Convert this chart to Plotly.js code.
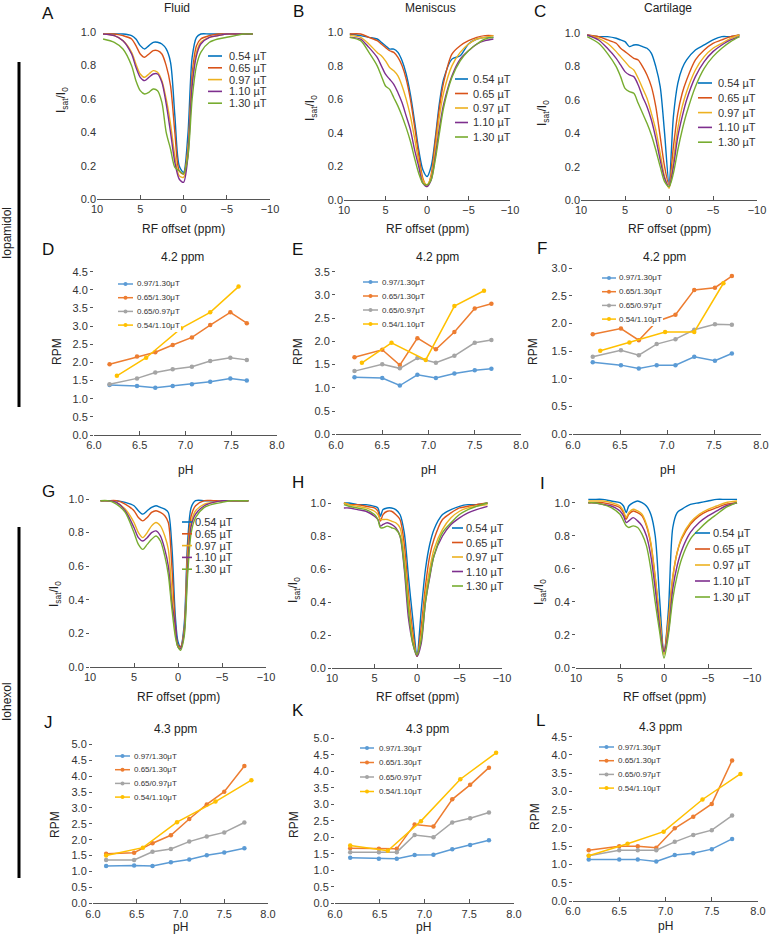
<!DOCTYPE html>
<html><head><meta charset="utf-8">
<script src="https://cdn.plot.ly/plotly-3.0.1.min.js"></script>
<style>html,body{margin:0;padding:0;background:#fff}#chart{width:772px;height:937px}</style>
</head><body><div id="chart"></div>
<script>
// ---------- labels / colours ----------
const zLabels = ["0.54 µT","0.65 µT","0.97 µT","1.10 µT","1.30 µT"];
const rLabels = ["0.97/1.30μT","0.65/1.30μT","0.65/0.97μT","0.54/1.10μT"];
const zColors = ["#0072BD","#D95319","#EDB120","#7E2F8E","#77AC30"];
const rColors = ["#5B9BD5","#ED7D31","#A5A5A5","#FFC000"];

// ---------- Z-spectra (Isat/I0 vs RF offset, ppm) ----------
const OFF_ABC = [9.3,8,7,6,5.5,5,4.5,4,3.5,3,2.5,2,1.5,1,0.5,0,-0.5,-1,-1.5,-2,-3,-4,-5,-6,-7,-8];
const A_054 = [0.99,0.99,0.99,0.98,0.96,0.92,0.90,0.92,0.94,0.94,0.93,0.90,0.82,0.50,0.20,0.16,0.38,0.85,0.97,0.99,0.99,0.99,0.99,0.99,0.99,0.99];
const A_065 = [0.99,0.99,0.98,0.96,0.92,0.87,0.85,0.87,0.89,0.89,0.87,0.80,0.68,0.40,0.17,0.15,0.30,0.75,0.92,0.96,0.98,0.99,0.99,0.99,0.99,0.99];
const A_097 = [0.99,0.98,0.95,0.88,0.81,0.75,0.73,0.75,0.77,0.76,0.71,0.60,0.45,0.26,0.14,0.13,0.28,0.70,0.88,0.94,0.97,0.98,0.99,0.99,0.99,0.99];
const A_110 = [0.99,0.98,0.95,0.87,0.79,0.73,0.71,0.73,0.75,0.75,0.70,0.57,0.40,0.22,0.12,0.10,0.25,0.68,0.86,0.93,0.97,0.98,0.99,0.99,0.99,0.99];
const A_130 = [0.96,0.94,0.90,0.80,0.71,0.65,0.63,0.64,0.66,0.65,0.58,0.40,0.30,0.19,0.17,0.15,0.25,0.60,0.80,0.88,0.94,0.96,0.97,0.98,0.99,0.99];

const B_054 = [0.99,0.98,0.97,0.96,0.94,0.92,0.90,0.90,0.88,0.83,0.75,0.63,0.47,0.30,0.18,0.14,0.20,0.37,0.58,0.72,0.84,0.86,0.93,0.96,0.97,0.97];
const B_065 = [0.99,0.99,0.97,0.95,0.93,0.91,0.89,0.88,0.85,0.80,0.72,0.60,0.44,0.27,0.13,0.08,0.15,0.35,0.55,0.70,0.87,0.92,0.95,0.97,0.98,0.98];
const B_097 = [0.98,0.97,0.93,0.88,0.86,0.83,0.79,0.77,0.74,0.68,0.60,0.50,0.37,0.23,0.12,0.09,0.14,0.30,0.50,0.64,0.80,0.88,0.93,0.96,0.97,0.98];
const B_110 = [0.97,0.96,0.91,0.85,0.80,0.75,0.72,0.69,0.64,0.58,0.50,0.42,0.30,0.20,0.10,0.08,0.12,0.26,0.43,0.57,0.74,0.84,0.89,0.93,0.95,0.96];
const B_130 = [0.97,0.95,0.88,0.80,0.74,0.68,0.66,0.61,0.56,0.50,0.43,0.35,0.25,0.16,0.10,0.09,0.12,0.24,0.40,0.55,0.73,0.83,0.89,0.93,0.96,0.97];

const C_054 = [0.99,0.98,0.98,0.97,0.96,0.95,0.92,0.93,0.93,0.92,0.91,0.88,0.80,0.68,0.40,0.10,0.50,0.70,0.79,0.84,0.90,0.93,0.96,0.98,0.98,0.99];
const C_065 = [0.99,0.98,0.96,0.94,0.91,0.89,0.87,0.85,0.84,0.80,0.75,0.68,0.56,0.38,0.20,0.09,0.32,0.52,0.64,0.72,0.84,0.90,0.94,0.96,0.98,0.99];
const C_097 = [0.99,0.97,0.94,0.89,0.86,0.83,0.80,0.78,0.73,0.67,0.61,0.52,0.42,0.28,0.14,0.07,0.24,0.43,0.56,0.65,0.78,0.86,0.91,0.94,0.97,0.99];
const C_110 = [0.99,0.96,0.91,0.85,0.81,0.77,0.75,0.74,0.69,0.62,0.56,0.48,0.37,0.24,0.13,0.08,0.20,0.38,0.50,0.60,0.74,0.83,0.89,0.93,0.96,0.98];
const C_130 = [0.98,0.94,0.88,0.80,0.74,0.67,0.65,0.64,0.58,0.52,0.46,0.39,0.30,0.20,0.11,0.08,0.16,0.30,0.42,0.52,0.68,0.79,0.86,0.91,0.95,0.98];

const OFF_G = [8.8,8,7,6,5,4.5,4.0,3.5,3.0,2.5,2.0,1.5,1.1,0.7,0.3,0,-0.3,-0.7,-1.1,-1.5,-2,-3,-4,-5,-6,-7,-8];
const G_054 = [0.99,0.99,0.99,0.98,0.96,0.93,0.91,0.93,0.95,0.96,0.95,0.94,0.92,0.72,0.30,0.15,0.12,0.25,0.75,0.95,0.99,0.99,0.99,0.99,0.99,0.99,0.99];
const G_065 = [0.99,0.99,0.99,0.97,0.93,0.89,0.87,0.89,0.92,0.93,0.92,0.90,0.86,0.60,0.25,0.13,0.12,0.22,0.70,0.90,0.96,0.99,0.99,0.99,0.99,0.99,0.99];
const G_097 = [0.99,0.99,0.98,0.94,0.86,0.80,0.77,0.80,0.84,0.86,0.84,0.78,0.70,0.45,0.20,0.12,0.11,0.21,0.65,0.86,0.93,0.97,0.98,0.99,0.99,0.99,0.99];
const G_110 = [0.99,0.99,0.98,0.93,0.83,0.77,0.75,0.77,0.80,0.81,0.78,0.70,0.60,0.38,0.25,0.12,0.11,0.20,0.60,0.84,0.91,0.96,0.98,0.99,0.99,0.99,0.99];
const G_130 = [0.99,0.99,0.97,0.92,0.80,0.73,0.70,0.73,0.76,0.78,0.75,0.66,0.55,0.35,0.18,0.12,0.10,0.18,0.55,0.80,0.89,0.95,0.97,0.98,0.99,0.99,0.99];

const OFF_HI = [8.6,8,7,6,5,4.6,4.3,4.0,3.5,3.0,2.5,2.0,1.5,1.0,0.5,0,-0.5,-1,-1.5,-2,-3,-4,-5,-6,-7,-8.3];
const H_054 = [1.00,1.00,0.99,0.99,0.98,0.97,0.92,0.96,0.97,0.97,0.96,0.93,0.82,0.55,0.30,0.08,0.35,0.60,0.75,0.84,0.93,0.96,0.98,0.99,0.99,1.00];
const H_065 = [1.00,0.99,0.99,0.98,0.97,0.95,0.89,0.93,0.95,0.95,0.93,0.90,0.75,0.45,0.22,0.07,0.25,0.50,0.68,0.78,0.90,0.94,0.97,0.98,0.99,1.00];
const H_097 = [1.00,0.99,0.98,0.97,0.95,0.93,0.90,0.90,0.90,0.89,0.88,0.85,0.68,0.40,0.18,0.07,0.20,0.45,0.60,0.72,0.84,0.91,0.95,0.97,0.98,0.99];
const H_110 = [0.97,0.97,0.96,0.95,0.92,0.90,0.86,0.87,0.88,0.87,0.85,0.80,0.60,0.30,0.15,0.07,0.15,0.40,0.55,0.68,0.80,0.87,0.91,0.94,0.96,0.98];
const H_130 = [0.99,0.98,0.97,0.96,0.93,0.90,0.85,0.85,0.86,0.85,0.84,0.80,0.62,0.35,0.15,0.08,0.17,0.40,0.56,0.68,0.82,0.88,0.93,0.96,0.98,1.00];

const I_054 = [1.02,1.02,1.02,1.01,1.00,0.98,0.94,0.98,1.00,1.01,1.00,0.98,0.93,0.80,0.42,0.09,0.35,0.85,0.94,0.96,0.99,1.00,1.01,1.02,1.02,1.02];
const I_065 = [1.00,1.00,1.00,0.99,0.97,0.94,0.90,0.93,0.95,0.94,0.92,0.86,0.75,0.55,0.30,0.10,0.30,0.55,0.70,0.78,0.87,0.92,0.95,0.97,0.99,1.00];
const I_097 = [1.01,1.01,1.01,1.00,0.98,0.95,0.91,0.94,0.96,0.95,0.93,0.87,0.76,0.55,0.30,0.08,0.28,0.55,0.70,0.79,0.88,0.93,0.96,0.98,1.00,1.01];
const I_110 = [1.00,1.00,0.99,0.98,0.95,0.92,0.88,0.89,0.91,0.89,0.86,0.80,0.68,0.48,0.25,0.10,0.22,0.48,0.62,0.71,0.82,0.88,0.92,0.95,0.98,1.00];
const I_130 = [1.00,1.00,0.99,0.97,0.93,0.89,0.86,0.85,0.86,0.85,0.81,0.74,0.60,0.40,0.22,0.06,0.20,0.42,0.56,0.66,0.78,0.84,0.89,0.93,0.97,1.00];

// ---------- RPM vs pH ----------
const D_pH  = [6.17,6.47,6.67,6.86,7.07,7.27,7.49,7.67];
const D_pHy = [6.25,6.57,6.95,7.27,7.58];
const D_097_130 = [1.38,1.35,1.30,1.35,1.40,1.47,1.56,1.50];
const D_065_130 = [1.95,2.16,2.28,2.48,2.69,3.03,3.38,3.08];
const D_065_097 = [1.40,1.56,1.72,1.81,1.88,2.04,2.13,2.07];
const D_054_110 = [1.63,2.13,2.94,3.38,4.09];

const E_pH  = [6.20,6.50,6.69,6.88,7.08,7.28,7.50,7.68];
const E_pHy = [6.28,6.60,6.97,7.28,7.60];
const E_097_130 = [1.23,1.21,1.05,1.28,1.21,1.31,1.38,1.41];
const E_065_130 = [1.66,1.82,1.49,2.07,1.83,2.20,2.71,2.81];
const E_065_097 = [1.36,1.51,1.42,1.64,1.54,1.69,1.97,2.03];
const E_054_110 = [1.54,1.97,1.60,2.76,3.09];

const F_pH  = [6.21,6.51,6.70,6.89,7.09,7.29,7.51,7.69];
const F_pHy = [6.29,6.60,6.98,7.29,7.60];
const F_097_130 = [1.30,1.25,1.19,1.25,1.25,1.40,1.33,1.46];
const F_065_130 = [1.81,1.91,1.70,2.04,2.16,2.61,2.65,2.86];
const F_065_097 = [1.40,1.52,1.43,1.63,1.72,1.89,1.99,1.98];
const F_054_110 = [1.51,1.66,1.85,1.85,2.73];

const J_pH  = [6.15,6.47,6.68,6.89,7.10,7.30,7.50,7.73];
const J_pHy = [6.15,6.57,6.96,7.40,7.81];
const J_097_130 = [1.17,1.19,1.17,1.29,1.38,1.51,1.60,1.73];
const J_065_130 = [1.56,1.59,1.89,2.14,2.65,3.11,3.51,4.32];
const J_065_097 = [1.36,1.36,1.62,1.71,1.94,2.10,2.23,2.54];
const J_054_110 = [1.50,1.75,2.55,3.20,3.87];

const K_pH  = [6.17,6.49,6.69,6.89,7.10,7.31,7.51,7.72];
const K_pHy = [6.17,6.59,6.96,7.40,7.80];
const K_097_130 = [1.38,1.35,1.35,1.46,1.47,1.64,1.77,1.91];
const K_065_130 = [1.67,1.65,1.65,2.39,2.33,3.15,3.59,4.11];
const K_065_097 = [1.55,1.55,1.55,2.07,2.00,2.45,2.58,2.75];
const K_054_110 = [1.75,1.59,2.49,3.76,4.56];

const L_pH  = [6.17,6.50,6.70,6.90,7.10,7.30,7.50,7.72];
const L_pHy = [6.17,6.59,6.98,7.40,7.81];
const L_097_130 = [1.14,1.14,1.14,1.08,1.26,1.31,1.42,1.70];
const L_065_130 = [1.39,1.50,1.50,1.46,1.99,2.31,2.66,3.85];
const L_065_097 = [1.24,1.39,1.39,1.39,1.62,1.81,1.94,2.34];
const L_054_110 = [1.24,1.57,1.90,2.78,3.48];

// ---------- figure geometry ----------
const W = 772, H = 937;
const FONT = '"Liberation Sans", Arial, Helvetica, sans-serif';
const P = x => x / W, Q = y => 1 - y / H;
const lin = (v, v0, p0, v1, p1) => p0 + (v - v0) * (p1 - p0) / (v1 - v0);

// xa: [value, px, value, px]; ya: [value, py, value, py]
const panels = [
 {k:'z', off:OFF_ABC, ys:[A_054,A_065,A_097,A_110,A_130], xa:[10,97,-10,270],  ya:[0,199,1,32.3],  yr:[0,1.06], yt:false, leg:[208,222,227,56,11.8]},
 {k:'z', off:OFF_ABC, ys:[B_054,B_065,B_097,B_110,B_130], xa:[10,344,-10,510], ya:[0,200,1,32.3],  yr:[0,1.06], yt:false, leg:[455,468,471,79,14.5]},
 {k:'z', off:OFF_ABC, ys:[C_054,C_065,C_097,C_110,C_130], xa:[10,581,-10,757], ya:[0,200,1,33.3],  yr:[0,1.06], yt:false, leg:[698,712,716,83,14.8]},
 {k:'r', ph:D_pH, phy:D_pHy, ys:[D_097_130,D_065_130,D_065_097,D_054_110], xa:[6,94,8,277],  ya:[0,435,4.5,271.7], yr:[0,4.5], leg:[118,133,135,284,13.7]},
 {k:'r', ph:E_pH, phy:E_pHy, ys:[E_097_130,E_065_130,E_065_097,E_054_110], xa:[6,336,8,521], ya:[0,434.3,3.5,271.7], yr:[0,3.5], leg:[363,378,380,282,14]},
 {k:'r', ph:F_pH, phy:F_pHy, ys:[F_097_130,F_065_130,F_065_097,F_054_110], xa:[6,573,8,761], ya:[0,434.3,3,268.3], yr:[0,3.0], leg:[602,616,617,278,13.7]},
 {k:'z', off:OFF_G,  ys:[G_054,G_065,G_097,G_110,G_130], xa:[10,90,-10,266],  ya:[0,667,1,499],   yr:[0,1.06], yt:true, leg:[182,192,193,522,11.8]},
 {k:'z', off:OFF_HI, ys:[H_054,H_065,H_097,H_110,H_130], xa:[10,332,-10,502], ya:[0,668,1,503],   yr:[0,1.06], yt:true, leg:[452,463,464,528,14.5]},
 {k:'z', off:OFF_HI, ys:[I_054,I_065,I_097,I_110,I_130], xa:[10,576,-10,752], ya:[0,668,1,502.7], yr:[0,1.07], yt:true, leg:[695,710,711,533,16]},
 {k:'r', ph:J_pH, phy:J_pHy, ys:[J_097_130,J_065_130,J_065_097,J_054_110], xa:[6,93,8,268],  ya:[0,903.3,5,744.3], yr:[0,5.0], leg:[115,130,132,756,13.7]},
 {k:'r', ph:K_pH, phy:K_pHy, ys:[K_097_130,K_065_130,K_065_097,K_054_110], xa:[6,335,8,514], ya:[0,903.3,5,738.3], yr:[0,5.0], leg:[360,374,377,748,14.5]},
 {k:'r', ph:L_pH, phy:L_pHy, ys:[L_097_130,L_065_130,L_065_097,L_054_110], xa:[6,573,8,758], ya:[0,901,4.5,736.7], yr:[0,4.5], leg:[599,614,616,747,13.7]}
];

const data = [];
const layout = {
  width: W, height: H, margin: {l:0, r:0, t:0, b:0},
  paper_bgcolor: '#fff', plot_bgcolor: 'rgba(0,0,0,0)',
  font: {family: FONT, color: '#333', size: 11},
  showlegend: false, annotations: [], shapes: []
};
const ann = (text, x, y, size, o) => layout.annotations.push(Object.assign({
  text, x: P(x), y: Q(y), xref: 'paper', yref: 'paper', showarrow: false,
  xanchor: 'center', yanchor: 'middle', font: {family: FONT, size, color: '#222'}
}, o || {}));

panels.forEach((pn, i) => {
  const n = i + 1, xs = n === 1 ? '' : String(n);
  const xr = pn.k === 'z' ? [10, -10] : [6, 8];
  const xd = [P(lin(xr[0], pn.xa[0], pn.xa[1], pn.xa[2], pn.xa[3])), P(lin(xr[1], pn.xa[0], pn.xa[1], pn.xa[2], pn.xa[3]))].sort((a,b)=>a-b);
  const yd = [Q(lin(pn.yr[0], pn.ya[0], pn.ya[1], pn.ya[2], pn.ya[3])), Q(lin(pn.yr[1], pn.ya[0], pn.ya[1], pn.ya[2], pn.ya[3]))];
  layout['xaxis' + xs] = {
    domain: xd, range: xr, anchor: 'y' + xs, showline: true, linecolor: '#555', linewidth: 1,
    ticks: 'inside', ticklen: 4, tickcolor: '#555', dtick: pn.k === 'z' ? 5 : 0.5, tick0: 0,
    tickformat: pn.k === 'z' ? 'd' : '.1f', showgrid: false, zeroline: false,
    tickfont: {family: FONT, size: 11, color: '#333'}, fixedrange: true
  };
  layout['yaxis' + xs] = {
    domain: yd, range: pn.yr, anchor: 'x' + xs, showline: false,
    ticks: (pn.k === 'r' || pn.yt) ? 'outside' : '', ticklen: 3, tickcolor: '#555',
    dtick: pn.k === 'z' ? 0.2 : 0.5, tick0: 0, tickformat: '.1f', showgrid: false, zeroline: false,
    tickfont: {family: FONT, size: 11, color: '#333'}, fixedrange: true
  };
  const ax = {xaxis: 'x' + xs, yaxis: 'y' + xs, showlegend: false, hoverinfo: 'skip'};
  const lg = pn.leg;
  if (pn.k === 'z') {
    pn.ys.forEach((ys, j) => data.push(Object.assign({
      type: 'scatter', mode: 'lines', x: pn.off, y: ys,
      line: {color: zColors[j], width: 1.4, shape: 'spline', smoothing: 0.8}
    }, ax)));
    zLabels.forEach((t, j) => {
      const y = lg[3] + j * lg[4];
      layout.shapes.push({type: 'line', xref: 'paper', yref: 'paper', x0: P(lg[0]), x1: P(lg[1]), y0: Q(y), y1: Q(y), line: {color: zColors[j], width: 1.6}});
      ann(t, lg[2], y, 11, {xanchor: 'left', font: {family: FONT, size: 11, color: '#333'}});
    });
  } else {
    pn.ys.forEach((ys, j) => data.push(Object.assign({
      type: 'scatter', mode: 'lines+markers', x: j === 3 ? pn.phy : pn.ph, y: ys,
      line: {color: rColors[j], width: 1.5}, marker: {color: rColors[j], size: 4.5}
    }, ax)));
    layout.shapes.push({type: 'rect', xref: 'paper', yref: 'paper', x0: P(lg[0] - 3), x1: P(lg[2] + 46),
      y0: Q(lg[3] - 7), y1: Q(lg[3] + 3 * lg[4] + 7), fillcolor: '#fff', line: {width: 0}});
    rLabels.forEach((t, j) => {
      const y = lg[3] + j * lg[4], xm = (lg[0] + lg[1]) / 2;
      layout.shapes.push({type: 'line', xref: 'paper', yref: 'paper', x0: P(lg[0]), x1: P(lg[1]), y0: Q(y), y1: Q(y), line: {color: rColors[j], width: 1.5}});
      layout.shapes.push({type: 'circle', xref: 'paper', yref: 'paper', x0: P(xm - 2), x1: P(xm + 2), y0: Q(y - 2), y1: Q(y + 2), fillcolor: rColors[j], line: {width: 0}});
      ann(t, lg[2], y, 8, {xanchor: 'left', font: {family: FONT, size: 8, color: '#333'}});
    });
  }
});

// panel letters
[['A',48,13],['B',298,12],['C',540,12],['D',48,250],['E',297,250],['F',542,248],
 ['G',48,492],['H',298,482],['I',542,483],['J',48,722],['K',298,710],['L',540,720]]
 .forEach(a => ann(a[0], a[1], a[2], 17, {font: {family: FONT, size: 17, color: '#111'}}));
// column titles
[['Fluid',177,8],['Meniscus',430,8],['Cartilage',668,8]].forEach(a => ann(a[0], a[1], a[2], 12));
// sub titles
[['4.2 ppm',182,257],['4.2 ppm',437,257],['4.2 ppm',664,257],
 ['4.3 ppm',175,729],['4.3 ppm',427,729],['4.3 ppm',660,727]].forEach(a => ann(a[0], a[1], a[2], 12));
// x titles
[['RF offset (ppm)',183,229],['RF offset (ppm)',427,229],['RF offset (ppm)',669,229],
 ['RF offset (ppm)',178,697],['RF offset (ppm)',417,697],['RF offset (ppm)',664,697],
 ['pH',185,470],['pH',428,470],['pH',667,470],['pH',180,927],['pH',424,927],['pH',665,926]]
 .forEach(a => ann(a[0], a[1], a[2], 12));
// y titles
const isat = 'I<sub>sat</sub>/I<sub>0</sub>';
[[isat,62,100],[isat,311,108],[isat,543,113],['RPM',57,352],['RPM',298,352],['RPM',533,352],
 [isat,55,594],[isat,294,590],[isat,540,592],['RPM',55,825],['RPM',294,825],['RPM',535,817]]
 .forEach(a => ann(a[0], a[1], a[2], 12, {textangle: -90}));
// side labels and bars
ann('Iopamidol', 7, 233, 12, {textangle: -90});
ann('Iohexol', 7, 702, 12, {textangle: -90});
layout.shapes.push({type: 'rect', xref: 'paper', yref: 'paper', x0: P(17.5), x1: P(20.5), y0: Q(407), y1: Q(62), fillcolor: '#000', line: {width: 0}});
layout.shapes.push({type: 'rect', xref: 'paper', yref: 'paper', x0: P(17.5), x1: P(20.5), y0: Q(878), y1: Q(527), fillcolor: '#000', line: {width: 0}});

Plotly.newPlot('chart', data, layout, {staticPlot: true, displayModeBar: false});
</script>
</body></html>
